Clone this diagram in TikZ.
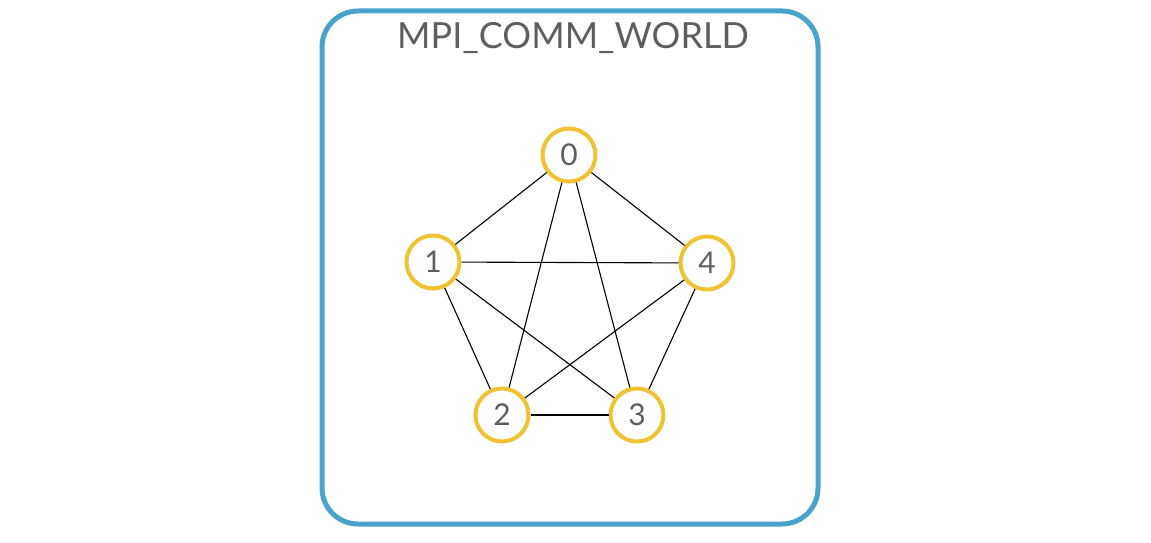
\documentclass[tikz,border=0pt]{standalone}
\usepackage{fontspec}
\setmainfont{Lato}
\begin{document}
\begin{tikzpicture}[x=1pt,y=-1pt,
  proc/.style={circle,draw=procyellow,line width=4pt,fill=white,minimum size=53pt,inner sep=0pt,font=\fontsize{30}{30}\selectfont,text=textgray},
  edge/.style={line width=1.1pt,black}]
\definecolor{procyellow}{HTML}{F0C232}
\definecolor{boxblue}{HTML}{47A2CC}
\definecolor{textgray}{HTML}{5E5E5E}
\useasboundingbox (0,0) rectangle (1151,543);
\fill[white] (0,0) rectangle (1151,543);
\draw[boxblue,line width=5pt,rounded corners=36pt] (322,11) rectangle (818,524);
\node[text=textgray,font=\fontsize{36}{36}\selectfont] (title) at (573,38) {MPI\_COMM\_WORLD};
\node[proc] (n0) at (569,155) {0};
\node[proc] (n1) at (433,262) {1};
\node[proc] (n4) at (707,263) {4};
\node[proc] (n2) at (502,415) {2};
\node[proc] (n3) at (637,415) {3};
\begin{scope}[on background layer/.style={}]
\end{scope}
\foreach \a/\b in {n0/n1,n0/n2,n0/n3,n0/n4,n1/n2,n1/n3,n1/n4,n2/n3,n2/n4,n3/n4}
  \draw[edge] (\a) -- (\b);
\end{tikzpicture}
\end{document}
